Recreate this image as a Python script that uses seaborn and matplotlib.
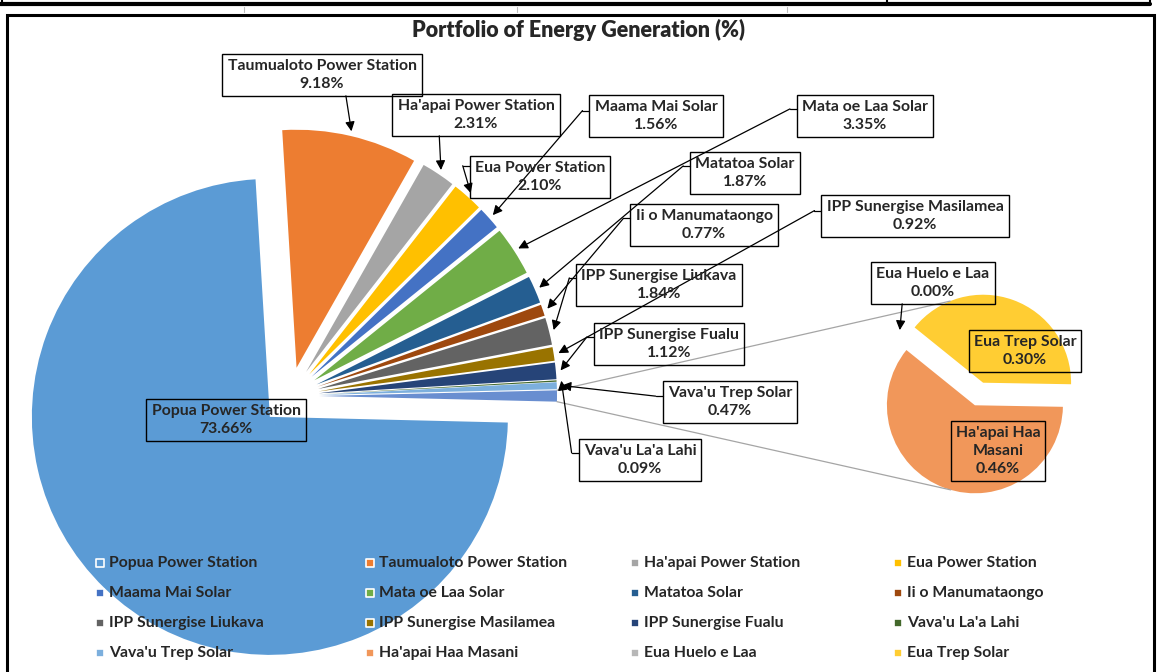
import numpy as np
import matplotlib
matplotlib.use("Agg")
import matplotlib.pyplot as plt
import seaborn as sns

# canvas in pixel units (y measured from the top when laying out text)
W, H = 1159, 672

main_names = ["Popua Power Station", "Taumualoto Power Station", "Ha'apai Power Station",
              "Eua Power Station", "Maama Mai Solar", "Mata oe Laa Solar", "Matatoa Solar",
              "Ii o Manumataongo", "IPP Sunergise Liukava", "IPP Sunergise Masilamea",
              "IPP Sunergise Fualu", "Vava'u La'a Lahi", "Vava'u Trep Solar"]
main_values = [73.66, 9.18, 2.31, 2.10, 1.56, 3.35, 1.87, 0.77, 1.84, 0.92, 1.12, 0.09, 0.47]
main_colors = ["#5B9BD5", "#ED7D31", "#A5A5A5", "#FFC000", "#4472C4", "#70AD47", "#255E91",
               "#9E480E", "#636363", "#997300", "#264478", "#43682B", "#7CAFDD"]

sec_names = ["Ha'apai Haa Masani", "Eua Huelo e Laa", "Eua Trep Solar"]
sec_values = [0.46, 0.00, 0.30]
sec_colors = ["#F1975A", "#B7B7B7", "#FFCD33"]
other_color = "#698ED0"

# label boxes: centre (x, y from top), side the leader leaves from, relative position
label_layout = {
    "Popua Power Station": (226, 420, None, 0),
    "Taumualoto Power Station": (322, 75, "bottom", 0.62),
    "Ha'apai Power Station": (476, 115, "bottom", 0.28),
    "Eua Power Station": (540, 177, "left", 0.23),
    "Maama Mai Solar": (656, 116, "left", 0.37),
    "Mata oe Laa Solar": (865, 116, "left", 0.33),
    "Matatoa Solar": (745, 173, "left", 0.33),
    "Ii o Manumataongo": (704, 225, "left", 0.34),
    "IPP Sunergise Liukava": (659, 285, "left", 0.33),
    "IPP Sunergise Masilamea": (915, 216, "left", 0.37),
    "IPP Sunergise Fualu": (669, 344, "left", 0.33),
    "Vava'u La'a Lahi": (640, 460, "left", 0.33),
    "Vava'u Trep Solar": (730, 402, "left", 0.36),
    "Ha'apai Haa Masani": (998, 451, None, 0),
    "Eua Huelo e Laa": (933, 283, "bottom", 0.25),
    "Eua Trep Solar": (1025, 351, None, 0),
}

sns.set_style("white")
plt.rcParams["font.family"] = ["Lato", "DejaVu Sans"]

fig = plt.figure(figsize=(W / 100, H / 100), dpi=100)
ax = fig.add_axes([0, 0, 1, 1])

# main pie (Other slice = sum of the secondary pie), centred at 3 o'clock
other_total = sum(sec_values)
vals = main_values + [other_total]
start = -other_total / sum(vals) * 360 / 2
wedges, _ = ax.pie(vals, colors=main_colors + [other_color], startangle=start,
                   counterclock=False, radius=238, center=(290, H - 396),
                   explode=[29] * len(vals), wedgeprops=dict(linewidth=0))
sec_wedges, _ = ax.pie(sec_values, colors=sec_colors, startangle=-1, counterclock=False,
                       radius=88, center=(979, H - 394), explode=[12] * 3,
                       wedgeprops=dict(linewidth=0))

ax.set_xlim(0, W)
ax.set_ylim(0, H)
ax.set_aspect("equal")
ax.axis("off")


def on_wedge(w, ang, f=1.0):
    a = np.deg2rad(ang)
    return (w.center[0] + f * w.r * np.cos(a), w.center[1] + f * w.r * np.sin(a))


def mid(w):
    return (w.theta1 + w.theta2) / 2


# series lines to the secondary pie
ow = wedges[-1]
for ang_main, w2, ang2 in [(ow.theta2, sec_wedges[2], 112), (ow.theta1, sec_wedges[0], 254)]:
    p1 = on_wedge(ow, ang_main)
    p2 = on_wedge(w2, ang2)
    ax.plot([p1[0], p2[0]], [p1[1], p2[1]], color="#A5A5A5", lw=0.9, zorder=1)

all_names = main_names + sec_names
all_values = main_values + sec_values
all_colors = main_colors + sec_colors
all_wedges = list(wedges[:-1]) + list(sec_wedges)

texts = {}
for name, val in zip(all_names, all_values):
    cx, cy, side, rel = label_layout[name]
    shown = "Ha'apai Haa\nMasani" if name == "Ha'apai Haa Masani" else name
    t = ax.text(cx, H - cy, f"{shown}\n{val:.2f}%", ha="center", va="center",
                fontsize=11.4, fontweight="bold", linespacing=1.32, zorder=5,
                bbox=dict(boxstyle="square,pad=0.32", fc="none", ec="black", lw=1.0))
    texts[name] = t

fig.canvas.draw()
renderer = fig.canvas.get_renderer()
inv = ax.transData.inverted()

for name, w in zip(all_names, all_wedges):
    cx, cy, side, rel = label_layout[name]
    if side is None:
        continue
    bb = texts[name].get_bbox_patch().get_window_extent(renderer)
    (x0, y0), (x1, y1) = inv.transform([(bb.x0, bb.y0), (bb.x1, bb.y1)])
    target = on_wedge(w, mid(w), 1.02)
    if side == "bottom":
        start_pt = (x0 + rel * (x1 - x0), y0)
    else:
        yy = y1 - rel * (y1 - y0)
        ax.plot([x0, x0 - 7], [yy, yy], color="black", lw=0.9, zorder=4)
        start_pt = (x0 - 7, yy)
    ax.annotate("", xy=target, xytext=start_pt, zorder=4,
                arrowprops=dict(arrowstyle="-|>", color="black", lw=0.9,
                                shrinkA=0, shrinkB=0, mutation_scale=14))

# title
ax.text(578, H - 30, "Portfolio of Energy Generation (%)", ha="center", va="center",
        fontsize=15.5, fontweight="heavy", zorder=5)

# legend, laid out row by row in four columns
col_x = [100, 370, 635, 898]
row_y = [563, 593, 623, 653]
for i, (name, col) in enumerate(zip(all_names, all_colors)):
    r, c = divmod(i, 4)
    ax.scatter([col_x[c]], [H - row_y[r]], marker="s", s=34, color=col,
               edgecolor="white", linewidth=1.2, zorder=5)
    ax.text(col_x[c] + 9, H - row_y[r], name, ha="left", va="center",
            fontsize=11.3, fontweight="bold", zorder=5)

# chart frame and the table edge above it
ax.plot([7, 7, 1154, 1154], [-5, H - 15, H - 15, -5], color="black", lw=2.2,
        solid_joinstyle="miter", zorder=6)
ax.plot([0, 1150], [H - 4, H - 4], color="black", lw=3, zorder=6)
for xv in [2, 887, 1150]:
    ax.plot([xv, xv], [H, H - 5], color="black", lw=1.5, zorder=6)
for xv in [244, 517, 787]:
    ax.plot([xv, xv], [H - 7, H - 12], color="#BBBBBB", lw=0.8, zorder=6)

fig.savefig("out.png", dpi=100)
plt.close(fig)
